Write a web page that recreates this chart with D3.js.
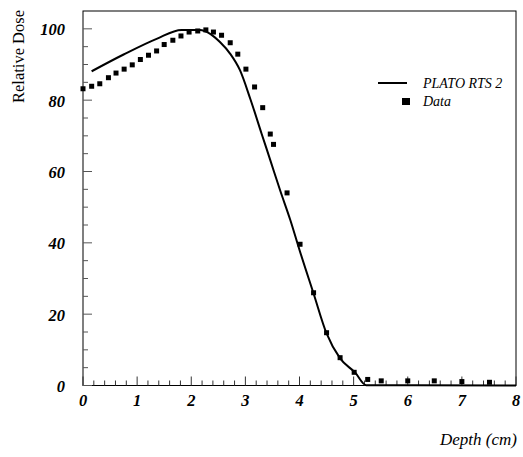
<!DOCTYPE html>
<html>
<head>
<meta charset="utf-8">
<script src="https://cdn.jsdelivr.net/npm/d3@7"></script>
<style>
  body { margin: 0; background: #fff; }
  svg text { font-family: "Liberation Serif", "DejaVu Serif", serif; fill: #000; }
</style>
</head>
<body>
<div id="chart"></div>
<script>
// PLATO RTS 2 calculated depth dose
const platoDepth = [0.16, 0.75, 1.36, 1.82, 2.16, 2.35, 2.53, 2.72, 2.90, 3.09, 3.30, 3.46, 3.64, 3.83, 4.0, 4.26, 4.5, 4.75, 5.03, 5.23, 8.0];
const platoDose  = [88.1, 92.8, 97.2, 99.7, 99.7, 98.6, 96.3, 93.0, 88.4, 80.4, 70.6, 63.2, 54.8, 46.4, 38.0, 25.8, 14.6, 7.6, 3.6, 0.1, 0.0];

// measured points
const dataDepth = [0.0, 0.16, 0.31, 0.47, 0.61, 0.76, 0.91, 1.06, 1.21, 1.36, 1.50, 1.66, 1.81, 1.96, 2.12, 2.27, 2.41, 2.56, 2.72, 2.86, 3.01, 3.17, 3.32, 3.46, 3.52, 3.77, 4.01, 4.26, 4.50, 4.75, 5.01, 5.26, 5.51, 6.0, 6.49, 7.0, 7.51];
const dataDose  = [83.2, 83.9, 84.6, 86.3, 87.6, 88.7, 89.9, 91.4, 92.6, 93.8, 95.6, 96.8, 98.0, 99.1, 99.4, 99.7, 99.1, 98.2, 96.1, 92.9, 88.7, 83.7, 77.9, 70.5, 67.6, 54.0, 39.6, 26.0, 14.8, 7.8, 3.7, 1.7, 1.3, 1.3, 1.3, 1.1, 0.9];

const xTicks = [0, 1, 2, 3, 4, 5, 6, 7, 8];
const yTicks = [0, 20, 40, 60, 80, 100];
const legendLabels = ["PLATO RTS 2", "Data"];

const width = 523, height = 457;
const plotLeft = 83, plotRight = 516, plotTop = 11, plotBottom = 385.5;

const svg = d3.select("#chart").append("svg")
  .attr("width", width)
  .attr("height", height);

const x = d3.scaleLinear().domain([0, 8]).range([plotLeft, plotRight]);
const y = d3.scaleLinear().domain([0, 105]).range([plotBottom, plotTop]);

// frame
svg.append("rect")
  .attr("x", plotLeft).attr("y", plotTop)
  .attr("width", plotRight - plotLeft).attr("height", plotBottom - plotTop)
  .attr("fill", "none").attr("stroke", "#000").attr("stroke-width", 1);

// x axis ticks (inside, pointing up)
const xMinor = d3.range(0, 8.001, 0.2);
svg.append("g").selectAll("line")
  .data(xMinor)
  .enter().append("line")
  .attr("x1", d => x(d)).attr("x2", d => x(d))
  .attr("y1", plotBottom)
  .attr("y2", d => Math.abs(d - Math.round(d)) < 1e-6 ? plotBottom - 9 : plotBottom - 5)
  .attr("stroke", "#333").attr("stroke-width", 1);

svg.append("g").selectAll("text")
  .data(xTicks)
  .enter().append("text")
  .attr("x", d => x(d))
  .attr("y", 406)
  .attr("text-anchor", "middle")
  .style("font-size", "16.5px")
  .style("font-style", "italic")
  .style("font-weight", "bold")
  .text(d => d);

// y axis ticks (inside, pointing right)
const yMinor = d3.range(0, 101, 5);
svg.append("g").selectAll("line")
  .data(yMinor)
  .enter().append("line")
  .attr("x1", plotLeft)
  .attr("x2", d => d % 20 === 0 ? plotLeft + 9 : plotLeft + 5)
  .attr("y1", d => y(d)).attr("y2", d => y(d))
  .attr("stroke", "#555").attr("stroke-width", 1);

svg.append("g").selectAll("text")
  .data(yTicks)
  .enter().append("text")
  .attr("x", 65)
  .attr("y", d => y(d) + 6.5)
  .attr("text-anchor", "end")
  .style("font-size", "16.5px")
  .style("font-style", "italic")
  .style("font-weight", "bold")
  .text(d => d);

// axis titles
svg.append("text")
  .attr("transform", "translate(24, 10) rotate(-90)")
  .attr("text-anchor", "end")
  .style("font-size", "16.5px")
  .text("Relative Dose");

svg.append("text")
  .attr("x", 517).attr("y", 445)
  .attr("text-anchor", "end")
  .style("font-size", "17px")
  .style("font-style", "italic")
  .text("Depth (cm)");

// calculated curve
const line = d3.line()
  .x((d, i) => x(platoDepth[i]))
  .y(d => y(d))
  .curve(d3.curveMonotoneX);
svg.append("path")
  .datum(platoDose)
  .attr("d", line)
  .attr("fill", "none")
  .attr("stroke", "#000")
  .attr("stroke-width", 2);

// measured squares
const sq = 5;
svg.append("g").selectAll("rect")
  .data(dataDose)
  .enter().append("rect")
  .attr("x", (d, i) => x(dataDepth[i]) - sq / 2)
  .attr("y", d => y(d) - sq / 2)
  .attr("width", sq).attr("height", sq)
  .attr("fill", "#000");

// legend
const legend = svg.append("g");
legend.append("line")
  .attr("x1", 378).attr("x2", 407)
  .attr("y1", 83).attr("y2", 83)
  .attr("stroke", "#000").attr("stroke-width", 2);
legend.append("rect")
  .attr("x", 402).attr("y", 98)
  .attr("width", 8).attr("height", 7)
  .attr("fill", "#000");
legend.selectAll("text")
  .data(legendLabels)
  .enter().append("text")
  .attr("x", 423)
  .attr("y", (d, i) => 88 + i * 18)
  .style("font-size", "14px")
  .style("font-style", "italic")
  .text(d => d);
</script>
</body>
</html>
